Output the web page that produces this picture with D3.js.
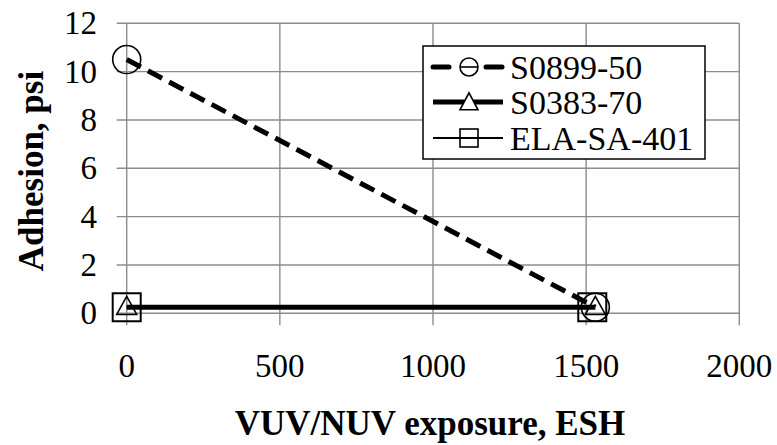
<!DOCTYPE html>
<html>
<head>
<meta charset="utf-8">
<script src="https://cdn.jsdelivr.net/npm/d3@7"></script>
<style>
  html, body { margin: 0; padding: 0; background: #fff; }
  svg { display: block; }
  svg text { font-family: "Liberation Serif", "Times New Roman", serif !important; }
</style>
</head>
<body>
<svg id="chart" width="777" height="445"></svg>
<script>
// ---- data ----
const seriesNames = ["S0899-50", "S0383-70", "ELA-SA-401"];
const s0899X = [0, 1530];
const s0899Y = [10.5, 0.25];
const s0383X = [0, 1530];
const s0383Y = [0.25, 0.25];
const elaX = [0, 1520];
const elaY = [0.25, 0.25];
const xTicks = [0, 500, 1000, 1500, 2000];
const yTicks = [0, 2, 4, 6, 8, 10, 12];
const xTitle = "VUV/NUV exposure, ESH";
const yTitle = "Adhesion, psi";

// ---- layout ----
const FONT_STYLE = "font-family: 'Liberation Serif', 'Times New Roman', serif !important";
const svg = d3.select("#chart");
const x = d3.scaleLinear().domain([0, 2000]).range([126.7, 739.3]);
const y = d3.scaleLinear().domain([0, 12]).range([313.3, 23.3]);
const gridColor = "#8c8c8c";

// gridlines (with outward tick stubs) from the scales
svg.append("g").selectAll("line").data(xTicks).join("line")
  .attr("x1", d => x(d)).attr("x2", d => x(d))
  .attr("y1", y(0) + 12).attr("y2", y(12))
  .attr("stroke", gridColor).attr("stroke-width", 1.4);
svg.append("g").selectAll("line").data(yTicks).join("line")
  .attr("x1", x(0) - 10).attr("x2", x(2000))
  .attr("y1", d => y(d)).attr("y2", d => y(d))
  .attr("stroke", gridColor).attr("stroke-width", 1.4);

// tick labels
svg.selectAll("text.xt").data(xTicks).join("text").attr("class", "xt")
  .attr("style", FONT_STYLE)
  .attr("font-size", 33)
  .attr("x", d => x(d)).attr("y", 377)
  .attr("text-anchor", "middle")
  .text(d => d);
svg.selectAll("text.yt").data(yTicks).join("text").attr("class", "yt")
  .attr("style", FONT_STYLE)
  .attr("font-size", 33)
  .attr("x", 97).attr("y", d => y(d) + 11)
  .attr("text-anchor", "end")
  .text(d => d);

// axis titles
svg.append("text").attr("style", FONT_STYLE).attr("font-size", 35)
  .attr("x", 430).attr("y", 435)
  .attr("text-anchor", "middle").attr("font-weight", "bold")
  .text(xTitle);
svg.append("text").attr("style", FONT_STYLE).attr("font-size", 35)
  .attr("transform", "translate(43,171) rotate(-90)")
  .attr("text-anchor", "middle").attr("font-weight", "bold")
  .text(yTitle);

// ---- series ----
const line = d3.line().x(d => x(d[0])).y(d => y(d[1]));
const zip = (a, b) => a.map((v, i) => [v, b[i]]);
const dEla = zip(elaX, elaY), d0383 = zip(s0383X, s0383Y), d0899 = zip(s0899X, s0899Y);

function triPath(cx, cy, w, h) {
  return `M${cx},${cy - h * 0.6}L${cx + w / 2},${cy + h * 0.4}L${cx - w / 2},${cy + h * 0.4}Z`;
}

// ELA-SA-401
svg.append("path").datum(dEla).attr("d", line).attr("fill", "none").attr("stroke", "#000").attr("stroke-width", 2);
svg.append("g").selectAll("rect").data(dEla).join("rect")
  .attr("x", d => x(d[0]) - 14).attr("y", d => y(d[1]) - 14).attr("width", 28).attr("height", 28)
  .attr("fill", "none").attr("stroke", "#000").attr("stroke-width", 2);

// S0383-70
svg.append("path").datum(d0383).attr("d", line).attr("fill", "none").attr("stroke", "#000").attr("stroke-width", 5);
svg.append("g").selectAll("path").data(d0383).join("path")
  .attr("d", d => triPath(x(d[0]), y(d[1]), 20, 18))
  .attr("fill", "none").attr("stroke", "#000").attr("stroke-width", 1.6);

// S0899-50
svg.append("path").datum(d0899).attr("d", line).attr("fill", "none").attr("stroke", "#000")
  .attr("stroke-width", 5).attr("stroke-dasharray", "16,8");
svg.append("g").selectAll("circle").data(d0899).join("circle")
  .attr("cx", d => x(d[0])).attr("cy", d => y(d[1])).attr("r", 14)
  .attr("fill", "none").attr("stroke", "#000").attr("stroke-width", 1.6);

// ---- legend ----
svg.append("rect").attr("x", 423).attr("y", 46).attr("width", 282).attr("height", 113)
  .attr("fill", "#fff").attr("stroke", "#000").attr("stroke-width", 1.5);
const rowsY = [67, 102, 138];
// row 1
[[433, 449], [486, 502]].forEach(([a, b]) => {
  svg.append("line").attr("x1", a).attr("x2", b).attr("y1", rowsY[0]).attr("y2", rowsY[0])
    .attr("stroke", "#000").attr("stroke-width", 5).attr("stroke-linecap", "round");
});
svg.append("circle").attr("cx", 469).attr("cy", rowsY[0]).attr("r", 9)
  .attr("fill", "none").attr("stroke", "#000").attr("stroke-width", 1.6);
svg.append("line").attr("x1", 460).attr("x2", 478).attr("y1", rowsY[0]).attr("y2", rowsY[0])
  .attr("stroke", "#000").attr("stroke-width", 1.6);
// row 2
svg.append("line").attr("x1", 433).attr("x2", 503).attr("y1", rowsY[1]).attr("y2", rowsY[1])
  .attr("stroke", "#000").attr("stroke-width", 5);
svg.append("path").attr("d", triPath(469, rowsY[1] + 1, 18, 17))
  .attr("fill", "#fff").attr("stroke", "#000").attr("stroke-width", 1.6);
// row 3
svg.append("line").attr("x1", 433).attr("x2", 503).attr("y1", rowsY[2]).attr("y2", rowsY[2])
  .attr("stroke", "#000").attr("stroke-width", 2);
svg.append("rect").attr("x", 460).attr("y", rowsY[2] - 9).attr("width", 18).attr("height", 18)
  .attr("fill", "none").attr("stroke", "#000").attr("stroke-width", 1.6);
svg.selectAll("text.lt").data(seriesNames).join("text").attr("class", "lt")
  .attr("style", FONT_STYLE)
  .attr("font-size", 34)
  .attr("x", 510).attr("y", (d, i) => rowsY[i] + 12)
  .text(d => d);
</script>
</body>
</html>
